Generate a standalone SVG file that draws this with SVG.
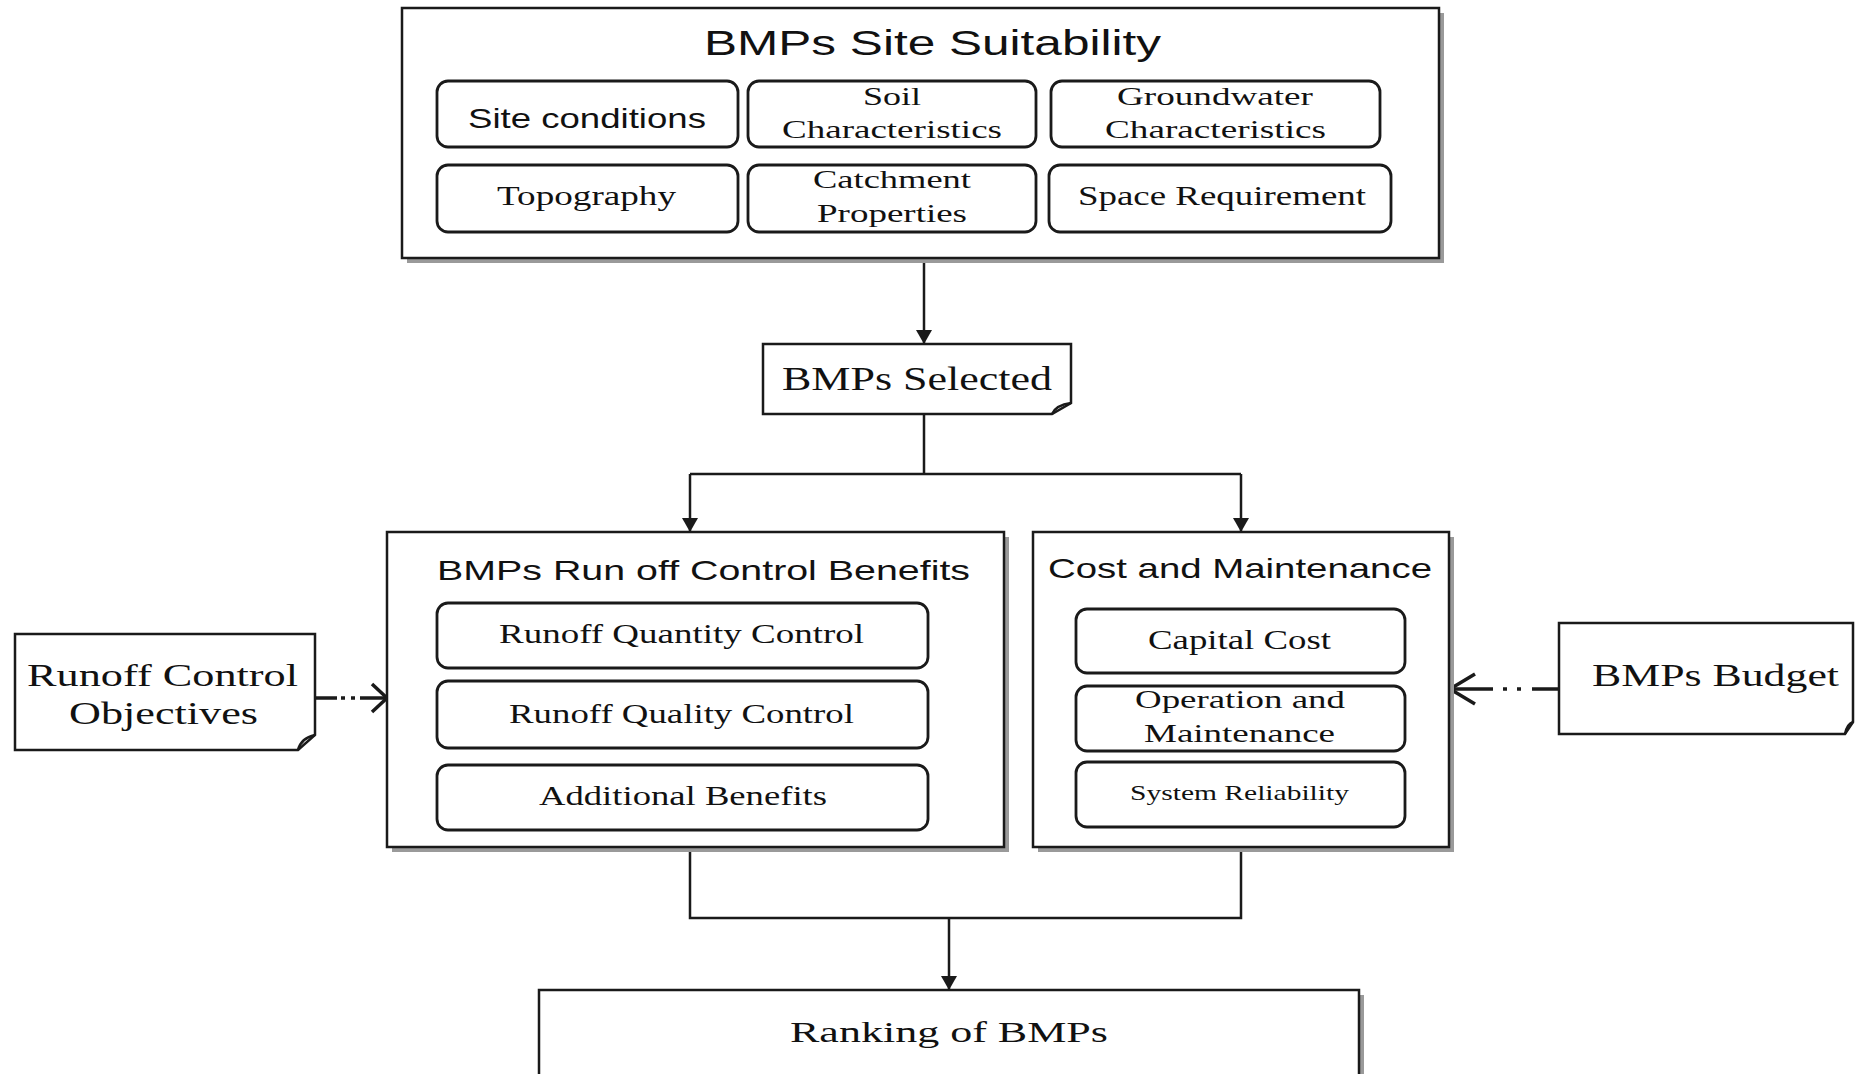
<svg xmlns="http://www.w3.org/2000/svg" width="1855" height="1074" viewBox="0 0 1855 1074">
<defs>
<style>
.box{fill:#fff;stroke:#1a1a1a;stroke-width:2.5}
.shadow{fill:#9a9a9a}
.rbox{fill:#fff;stroke:#1a1a1a;stroke-width:2.8}
.sans{font-family:"Liberation Sans",Arial,sans-serif;fill:#111}
.serif{font-family:"Liberation Serif","Times New Roman",serif;fill:#111}
.line{fill:none;stroke:#1a1a1a;stroke-width:2.5}
.dash{fill:none;stroke:#1a1a1a;stroke-width:3.5}
.head{fill:none;stroke:#1a1a1a;stroke-width:3.5;stroke-linejoin:miter}
</style>
<marker id="arr" viewBox="0 0 14 16" refX="14" refY="8" markerWidth="14" markerHeight="16" markerUnits="userSpaceOnUse" orient="auto">
<path d="M0,0 L14,8 L0,16 Z" fill="#1a1a1a"/>
</marker>
</defs>
<rect width="1855" height="1074" fill="#fff"/>

<g id="connectors">
<path class="line" d="M924,258 V344" marker-end="url(#arr)"/>
<path class="line" d="M924,414 V474 M690,474 H1241"/>
<path class="line" d="M690,474 V532" marker-end="url(#arr)"/>
<path class="line" d="M1241,474 V532" marker-end="url(#arr)"/>
<path class="line" d="M690,847 V918 H1241 V847"/>
<path class="line" d="M949,918 V990" marker-end="url(#arr)"/>
<path class="dash" d="M315,698 H337 M341,698 H345 M351,698 H355 M360,698 H387"/>
<path class="head" d="M372,684 L387,698 L372,712"/>
<path class="dash" d="M1559,689 H1532 M1521,689 H1517 M1507,689 H1503 M1493,689 H1450"/>
<path class="head" d="M1475,674 L1450,689 L1475,704"/>
</g>

<g id="site-suitability">
<rect class="shadow" x="407" y="13" width="1037" height="250"/>
<rect class="box" x="402" y="8" width="1037" height="250"/>
<text class="sans" x="704" y="55" font-size="35" textLength="457" lengthAdjust="spacingAndGlyphs">BMPs Site Suitability</text>
</g>
<g id="site-conditions">
<rect class="rbox" x="437" y="81" width="301" height="66" rx="11"/>
<text class="sans" x="468" y="128" font-size="28" textLength="238" lengthAdjust="spacingAndGlyphs">Site conditions</text>
</g>
<g id="soil">
<rect class="rbox" x="748" y="81" width="288" height="66" rx="11"/>
<text class="serif" x="863" y="105" font-size="26" textLength="58" lengthAdjust="spacingAndGlyphs">Soil</text>
<text class="serif" x="782" y="138" font-size="26" textLength="220" lengthAdjust="spacingAndGlyphs">Characteristics</text>
</g>
<g id="groundwater">
<rect class="rbox" x="1051" y="81" width="329" height="66" rx="11"/>
<text class="serif" x="1117" y="105" font-size="26" textLength="196" lengthAdjust="spacingAndGlyphs">Groundwater</text>
<text class="serif" x="1105" y="138" font-size="26" textLength="221" lengthAdjust="spacingAndGlyphs">Characteristics</text>
</g>
<g id="topography">
<rect class="rbox" x="437" y="165" width="301" height="67" rx="11"/>
<text class="serif" x="497" y="205" font-size="27" textLength="179" lengthAdjust="spacingAndGlyphs">Topography</text>
</g>
<g id="catchment">
<rect class="rbox" x="748" y="165" width="288" height="67" rx="11"/>
<text class="serif" x="813" y="188" font-size="26" textLength="158" lengthAdjust="spacingAndGlyphs">Catchment</text>
<text class="serif" x="817" y="222" font-size="26" textLength="150" lengthAdjust="spacingAndGlyphs">Properties</text>
</g>
<g id="space">
<rect class="rbox" x="1049" y="165" width="342" height="67" rx="11"/>
<text class="serif" x="1078" y="205" font-size="27" textLength="288" lengthAdjust="spacingAndGlyphs">Space Requirement</text>
</g>

<g id="bmps-selected">
<path class="box" d="M763,344 H1071 V403 L1052,414 H763 Z"/>
<path class="line" d="M1052,414 Q1056,405 1071,403" stroke-width="2"/>
<text class="serif" x="782" y="390" font-size="34" textLength="270" lengthAdjust="spacingAndGlyphs">BMPs Selected</text>
</g>

<g id="runoff-benefits">
<rect class="shadow" x="392" y="537" width="617" height="315"/>
<rect class="box" x="387" y="532" width="617" height="315"/>
<text class="sans" x="437" y="580" font-size="28" textLength="533" lengthAdjust="spacingAndGlyphs">BMPs Run off Control Benefits</text>
</g>
<g id="quantity">
<rect class="rbox" x="437" y="603" width="491" height="65" rx="11"/>
<text class="serif" x="499" y="643" font-size="27" textLength="365" lengthAdjust="spacingAndGlyphs">Runoff Quantity Control</text>
</g>
<g id="quality">
<rect class="rbox" x="437" y="681" width="491" height="67" rx="11"/>
<text class="serif" x="509" y="723" font-size="27" textLength="345" lengthAdjust="spacingAndGlyphs">Runoff Quality Control</text>
</g>
<g id="additional">
<rect class="rbox" x="437" y="765" width="491" height="65" rx="11"/>
<text class="serif" x="539" y="805" font-size="27" textLength="288" lengthAdjust="spacingAndGlyphs">Additional Benefits</text>
</g>

<g id="cost-maintenance">
<rect class="shadow" x="1038" y="537" width="416" height="315"/>
<rect class="box" x="1033" y="532" width="416" height="315"/>
<text class="sans" x="1048" y="578" font-size="28" textLength="384" lengthAdjust="spacingAndGlyphs">Cost and Maintenance</text>
</g>
<g id="capital">
<rect class="rbox" x="1076" y="609" width="329" height="64" rx="11"/>
<text class="serif" x="1148" y="649" font-size="27" textLength="183" lengthAdjust="spacingAndGlyphs">Capital Cost</text>
</g>
<g id="operation">
<rect class="rbox" x="1076" y="686" width="329" height="65" rx="11"/>
<text class="serif" x="1135" y="708" font-size="26" textLength="210" lengthAdjust="spacingAndGlyphs">Operation and</text>
<text class="serif" x="1144" y="742" font-size="26" textLength="191" lengthAdjust="spacingAndGlyphs">Maintenance</text>
</g>
<g id="reliability">
<rect class="rbox" x="1076" y="762" width="329" height="65" rx="11"/>
<text class="serif" x="1130" y="800" font-size="21" textLength="219" lengthAdjust="spacingAndGlyphs">System Reliability</text>
</g>

<g id="runoff-objectives">
<path class="box" d="M15,634 H315 V735 L298,750 H15 Z"/>
<path class="line" d="M298,750 Q301,738 315,735" stroke-width="2"/>
<text class="serif" x="27" y="686" font-size="32" textLength="271" lengthAdjust="spacingAndGlyphs">Runoff Control</text>
<text class="serif" x="69" y="724" font-size="32" textLength="189" lengthAdjust="spacingAndGlyphs">Objectives</text>
</g>

<g id="bmps-budget">
<path class="box" d="M1559,623 H1853 V722 L1845,734 H1559 Z"/>
<path class="line" d="M1845,734 Q1847,724 1853,722" stroke-width="2"/>
<text class="serif" x="1592" y="686" font-size="31" textLength="247" lengthAdjust="spacingAndGlyphs">BMPs Budget</text>
</g>

<g id="ranking">
<rect class="shadow" x="544" y="995" width="820" height="100"/>
<rect class="box" x="539" y="990" width="820" height="100"/>
<text class="serif" x="790" y="1042" font-size="30" textLength="318" lengthAdjust="spacingAndGlyphs">Ranking of BMPs</text>
</g>
</svg>
